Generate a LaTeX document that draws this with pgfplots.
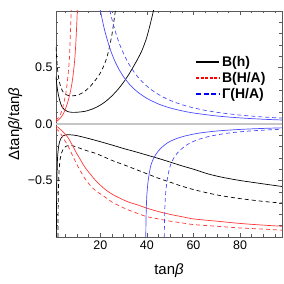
\documentclass[border=0pt]{standalone}
\usepackage{fontspec}
\setmainfont{Liberation Sans}
\usepackage{pgfplots}
\pgfplotsset{compat=1.18}
\definecolor{cred}{rgb}{1,0.22,0.22}
\definecolor{cblue}{rgb}{0.3,0.3,1}
\definecolor{frame}{gray}{0.35}
\begin{document}
\begin{tikzpicture}
\path[use as bounding box] (-56bp,-47bp) rectangle (228bp,237bp);
\begin{axis}[
  at={(0,0)}, anchor=south west,
  scale only axis, width=226bp, height=226bp,
  xmin=1, xmax=98, ymin=-1, ymax=1,
  clip=true,
  axis line style={frame, line width=0.5bp},
  xtick={20,40,60,80}, xticklabels={20,40,60,80},
  ytick={-0.5,0,0.5}, yticklabels={−0.5,0.0,0.5},
  minor xtick={5,10,15,25,30,35,45,50,55,65,70,75,85,90,95},
  minor ytick={-0.9,-0.8,-0.7,-0.6,-0.4,-0.3,-0.2,-0.1,0.1,0.2,0.3,0.4,0.6,0.7,0.8,0.9},
  tick align=inside, tick pos=both,
  major tick length=4bp, minor tick length=2.5bp,
  every tick/.style={frame, line width=0.5bp},
  ticklabel style={font=\fontsize{12.5}{14}\selectfont},
  xlabel={tan\textit{β}}, ylabel={Δtan\textit{β}/tan\textit{β}},
  label style={font=\fontsize{15}{17}\selectfont},
  xlabel style={at={(axis description cs:0.5,-0.15)}, anchor=center},
  ylabel style={at={(axis description cs:-0.18,0.5)}, anchor=center},
  legend style={draw=none, fill=none, at={(axis description cs:0.61,0.815)}, anchor=north west,
    font=\bfseries\fontsize{14}{16}\selectfont, row sep=0.5bp, inner sep=1bp},
  legend cell align=left,
  legend image code/.code={\draw[#1] (0bp,0bp) -- (23bp,0bp);},
]
\addplot[gray!45, line width=1.3bp, forget plot] coordinates {(1,0) (98,0)};

% B(h) solid upper
\addplot[black, line width=0.7bp, smooth, forget plot] coordinates {
(1.0,0.42) (1.3,0.36) (1.6,0.31) (2.0,0.26) (2.7,0.2) (3.5,0.155) (4.5,0.128) (6,0.11) (8,0.103)
(10,0.104) (12,0.108) (14,0.115) (16,0.128) (18,0.145) (20,0.167) (22,0.195) (24,0.229) (26,0.27)
(28,0.316) (30,0.37) (32,0.43) (34,0.50) (36,0.573) (38,0.656) (40,0.77) (42,0.93) (43,1.02) (43.5,1.08)};
% B(h) solid lower
\addplot[black, line width=0.7bp, smooth, forget plot] coordinates {
(1.15,-1.0) (1.3,-0.6) (1.6,-0.33) (2.0,-0.22) (2.5,-0.16) (3.2,-0.125) (4,-0.105) (5,-0.097) (6,-0.095)
(8,-0.097) (10,-0.103) (14,-0.123) (18,-0.145) (22,-0.168) (26,-0.192) (30,-0.217) (35,-0.245)
(40,-0.275) (45,-0.305) (50,-0.337) (55,-0.37) (60,-0.40) (66,-0.44) (72,-0.47) (80,-0.50) (90,-0.53) (98,-0.553)};
% B(h) dashed upper
\addplot[black, line width=0.7bp, dash pattern=on 4bp off 3bp, smooth, forget plot] coordinates {
(1.0,0.68) (1.3,0.58) (1.7,0.48) (2.2,0.40) (3.0,0.33) (4,0.285) (5.5,0.258) (7.5,0.248) (10,0.255)
(12,0.272) (14,0.30) (16,0.34) (18,0.39) (20,0.45) (22,0.54) (23.5,0.64) (25,0.79) (26,0.93) (26.6,1.02) (27,1.08)};
% B(h) dashed lower
\addplot[black, line width=0.7bp, dash pattern=on 4bp off 3bp, smooth, forget plot] coordinates {
(1.85,-1.0) (1.9,-0.8) (2.0,-0.6) (2.3,-0.42) (2.8,-0.31) (3.5,-0.25) (4.5,-0.21) (5.5,-0.195) (6.6,-0.19)
(8,-0.192) (10,-0.205) (14,-0.235) (18,-0.26) (22,-0.295) (26,-0.33) (30,-0.36) (35,-0.40) (40,-0.44)
(45,-0.48) (50,-0.515) (55,-0.55) (60,-0.58) (66,-0.61) (72,-0.635) (80,-0.66) (90,-0.685) (98,-0.70)};

% B(H/A) solid upper
\addplot[cred, line width=0.7bp, smooth, forget plot] coordinates {
(1.0,0.02) (2,0.035) (3,0.055) (4,0.085) (5,0.13) (6,0.19) (7,0.27) (8,0.38) (9,0.56) (9.6,0.75) (10.1,0.98) (10.3,1.1)};
% B(H/A) solid lower
\addplot[cred, line width=0.7bp, smooth, forget plot] coordinates {
(1,-0.02) (2,-0.03) (3,-0.05) (4,-0.07) (5,-0.09) (6,-0.115) (7,-0.15) (8.6,-0.21) (10,-0.265) (11.6,-0.32)
(13,-0.37) (14.4,-0.41) (16,-0.45) (18,-0.50) (21.6,-0.57) (25,-0.62) (28.8,-0.66) (32,-0.69) (35.9,-0.715)
(40,-0.745) (45,-0.775) (50,-0.80) (55,-0.82) (60,-0.84) (70,-0.86) (80,-0.88) (90,-0.895) (98,-0.905)};
% B(H/A) dashed upper
\addplot[cred, line width=0.7bp, dash pattern=on 4bp off 3bp, smooth, forget plot] coordinates {
(1.0,0.03) (1.5,0.045) (2.2,0.06) (3.0,0.09) (3.7,0.13) (4.4,0.19) (5.2,0.27) (5.9,0.38) (6.7,0.56) (7.1,0.75) (7.5,0.98) (7.65,1.1)};
% B(H/A) dashed lower
\addplot[cred, line width=0.7bp, dash pattern=on 4bp off 3bp, smooth, forget plot] coordinates {
(1,-0.04) (2,-0.06) (3,-0.085) (4,-0.12) (5,-0.155) (5.8,-0.18) (7,-0.23) (8.6,-0.30) (10,-0.36) (11.6,-0.42)
(13,-0.47) (14.4,-0.51) (16,-0.55) (18,-0.59) (21.6,-0.64) (25,-0.69) (28.8,-0.73) (32,-0.76) (35.9,-0.79)
(40,-0.82) (45,-0.84) (50,-0.86) (55,-0.875) (60,-0.89) (70,-0.905) (80,-0.92) (90,-0.93) (98,-0.94)};

% Gamma(H/A) solid upper
\addplot[cblue, line width=0.7bp, smooth, forget plot] coordinates {
(19.5,1.071) (20,1.012) (21,0.909) (22,0.82) (24,0.678) (26,0.569) (28,0.485) (30,0.418) (33,0.341)
(36,0.284) (40,0.227) (45,0.177) (50,0.142) (55,0.117) (60,0.0975) (70,0.071) (80,0.054) (90,0.042) (98,0.0356)};
% Gamma(H/A) solid lower
\addplot[cblue, line width=0.7bp, smooth, forget plot] coordinates {
(39.55,-1.0) (39.6,-0.88) (39.75,-0.75) (40.0,-0.63) (40.4,-0.53) (41.0,-0.44) (41.8,-0.36) (43.0,-0.30)
(44.5,-0.25) (46.5,-0.205) (49,-0.165) (52,-0.135) (56,-0.108) (62,-0.082) (70,-0.062) (80,-0.048) (90,-0.039) (98,-0.034)};
% Gamma(H/A) dashed upper
\addplot[cblue, line width=0.7bp, dash pattern=on 4bp off 3bp, smooth, forget plot] coordinates {
(23.5,1.065) (24,1.016) (25,0.928) (27,0.783) (29,0.67) (32,0.541) (35,0.446) (38,0.374) (42,0.302)
(47,0.238) (52,0.193) (58,0.153) (65,0.121) (72,0.098) (80,0.079) (90,0.062) (98,0.052)};
% Gamma(H/A) dashed lower
\addplot[cblue, line width=0.7bp, dash pattern=on 4bp off 3bp, smooth, forget plot] coordinates {
(47.5,-1.0) (47.55,-0.88) (47.7,-0.75) (48.0,-0.63) (48.5,-0.53) (49.2,-0.44) (50.2,-0.36) (51.6,-0.30)
(53.4,-0.25) (55.8,-0.205) (58.8,-0.165) (62.4,-0.135) (67.2,-0.108) (74.4,-0.082) (84,-0.062) (96,-0.048) (98,-0.046)};

\addlegendimage{black, line width=2bp}
\addlegendentry{B(h)}
\addlegendimage{red, line width=2bp, dash pattern=on 3bp off 1.5bp}
\addlegendentry{B(H/A)}
\addlegendimage{blue, line width=2bp, dash pattern=on 5bp off 2.5bp}
\addlegendentry{Γ(H/A)}
\end{axis}
\end{tikzpicture}
\end{document}
